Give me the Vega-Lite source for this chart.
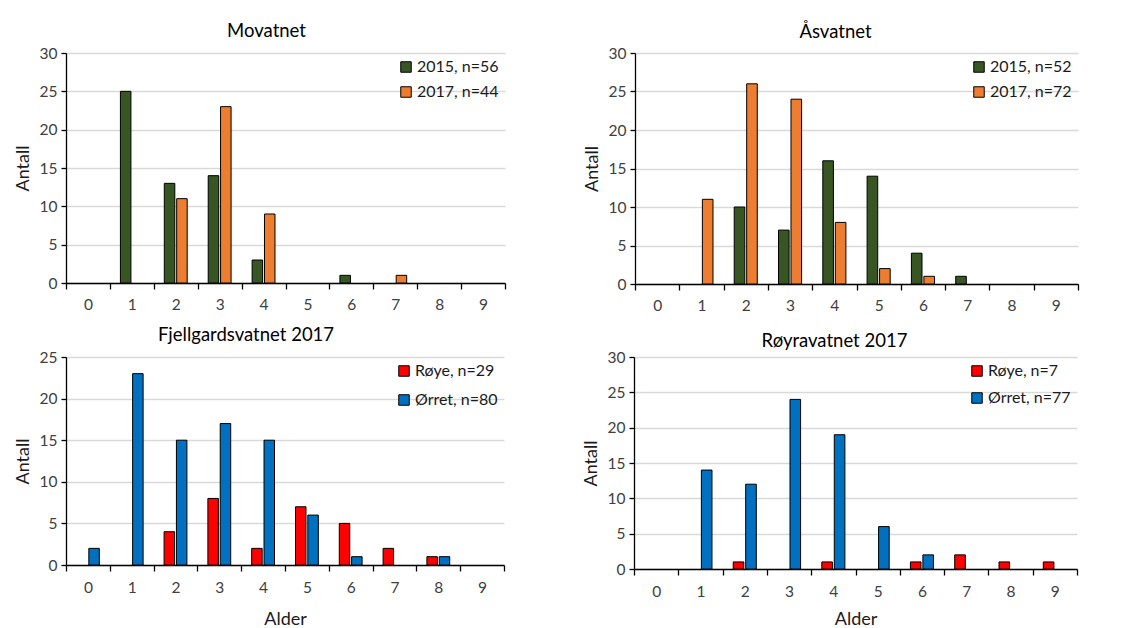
{
  "$schema": "https://vega.github.io/schema/vega-lite/v6.json",
  "background": "white",
  "padding": {"left": 14, "top": 21, "right": 10, "bottom": 0},
  "config": {
    "font": "Lato",
    "view": {"stroke": null},
    "bar": {"stroke": "black", "strokeWidth": 1},
    "title": {"fontSize": 18.5, "fontWeight": "normal", "color": "#000000", "anchor": "middle", "frame": "group"},
    "axis": {"labelFontSize": 15.5, "labelColor": "#404040", "titleFontSize": 18, "titleFontWeight": "normal", "titleColor": "#1a1a1a", "domainColor": "black", "tickColor": "black", "domainWidth": 1.3, "tickWidth": 1.3},
    "axisY": {"gridColor": "#d9d9d9", "gridWidth": 1.3, "tickSize": 5, "labelPadding": 4, "titlePadding": 7},
    "axisX": {"grid": false, "tickBand": "extent", "tickSize": 6, "labelPadding": 8, "labelAngle": 0, "titlePadding": 6},
    "legend": {"orient": "top-right", "offset": 6, "symbolType": "square", "symbolSize": 110, "symbolStrokeColor": "black", "symbolStrokeWidth": 1, "labelFontSize": 16, "labelColor": "#1a1a1a", "labelLimit": 300, "labelOffset": 3, "rowPadding": 9, "padding": 0}
  },
  "datasets": {
    "movatnet": [
      {"alder": 1, "serie": "2015, n=56", "antall": 25},
      {"alder": 2, "serie": "2015, n=56", "antall": 13},
      {"alder": 3, "serie": "2015, n=56", "antall": 14},
      {"alder": 4, "serie": "2015, n=56", "antall": 3},
      {"alder": 6, "serie": "2015, n=56", "antall": 1},
      {"alder": 2, "serie": "2017, n=44", "antall": 11},
      {"alder": 3, "serie": "2017, n=44", "antall": 23},
      {"alder": 4, "serie": "2017, n=44", "antall": 9},
      {"alder": 7, "serie": "2017, n=44", "antall": 1}
    ],
    "asvatnet": [
      {"alder": 2, "serie": "2015, n=52", "antall": 10},
      {"alder": 3, "serie": "2015, n=52", "antall": 7},
      {"alder": 4, "serie": "2015, n=52", "antall": 16},
      {"alder": 5, "serie": "2015, n=52", "antall": 14},
      {"alder": 6, "serie": "2015, n=52", "antall": 4},
      {"alder": 7, "serie": "2015, n=52", "antall": 1},
      {"alder": 1, "serie": "2017, n=72", "antall": 11},
      {"alder": 2, "serie": "2017, n=72", "antall": 26},
      {"alder": 3, "serie": "2017, n=72", "antall": 24},
      {"alder": 4, "serie": "2017, n=72", "antall": 8},
      {"alder": 5, "serie": "2017, n=72", "antall": 2},
      {"alder": 6, "serie": "2017, n=72", "antall": 1}
    ],
    "fjellgard": [
      {"alder": 2, "serie": "Røye, n=29", "antall": 4},
      {"alder": 3, "serie": "Røye, n=29", "antall": 8},
      {"alder": 4, "serie": "Røye, n=29", "antall": 2},
      {"alder": 5, "serie": "Røye, n=29", "antall": 7},
      {"alder": 6, "serie": "Røye, n=29", "antall": 5},
      {"alder": 7, "serie": "Røye, n=29", "antall": 2},
      {"alder": 8, "serie": "Røye, n=29", "antall": 1},
      {"alder": 0, "serie": "Ørret, n=80", "antall": 2},
      {"alder": 1, "serie": "Ørret, n=80", "antall": 23},
      {"alder": 2, "serie": "Ørret, n=80", "antall": 15},
      {"alder": 3, "serie": "Ørret, n=80", "antall": 17},
      {"alder": 4, "serie": "Ørret, n=80", "antall": 15},
      {"alder": 5, "serie": "Ørret, n=80", "antall": 6},
      {"alder": 6, "serie": "Ørret, n=80", "antall": 1},
      {"alder": 8, "serie": "Ørret, n=80", "antall": 1}
    ],
    "royra": [
      {"alder": 2, "serie": "Røye, n=7", "antall": 1},
      {"alder": 4, "serie": "Røye, n=7", "antall": 1},
      {"alder": 6, "serie": "Røye, n=7", "antall": 1},
      {"alder": 7, "serie": "Røye, n=7", "antall": 2},
      {"alder": 8, "serie": "Røye, n=7", "antall": 1},
      {"alder": 9, "serie": "Røye, n=7", "antall": 1},
      {"alder": 1, "serie": "Ørret, n=77", "antall": 14},
      {"alder": 2, "serie": "Ørret, n=77", "antall": 12},
      {"alder": 3, "serie": "Ørret, n=77", "antall": 24},
      {"alder": 4, "serie": "Ørret, n=77", "antall": 19},
      {"alder": 5, "serie": "Ørret, n=77", "antall": 6},
      {"alder": 6, "serie": "Ørret, n=77", "antall": 2}
    ]
  },
  "resolve": {"scale": {"x": "independent", "y": "independent", "color": "independent", "xOffset": "independent"}, "legend": {"color": "independent"}},
  "spacing": 11,
  "vconcat": [
    {
      "spacing": 77,
      "resolve": {"scale": {"x": "independent", "y": "independent", "color": "independent", "xOffset": "independent"}, "legend": {"color": "independent"}},
      "hconcat": [
        {
          "data": {"name": "movatnet"},
          "width": 439, "height": 230,
          "title": {"text": "Movatnet", "dx": -19, "offset": 6},
          "mark": "bar",
          "encoding": {
            "x": {"field": "alder", "type": "ordinal", "scale": {"domain": [0,1,2,3,4,5,6,7,8,9], "paddingInner": 0, "paddingOuter": 0}, "axis": {"title": null}},
            "xOffset": {"field": "serie", "type": "nominal", "scale": {"domain": ["2015, n=56", "2017, n=44"], "paddingInner": 0.15, "paddingOuter": 0.85}},
            "y": {"field": "antall", "type": "quantitative", "scale": {"domain": [0, 30], "nice": false}, "axis": {"title": "Antall", "values": [0,5,10,15,20,25,30]}},
            "color": {"field": "serie", "type": "nominal", "scale": {"domain": ["2015, n=56", "2017, n=44"], "range": ["#375623", "#ED7D31"]}, "legend": {"title": null, "rowPadding": 9}}
          }
        },
        {
          "data": {"name": "asvatnet"},
          "width": 443, "height": 231,
          "title": {"text": "Åsvatnet", "dx": -21, "offset": 5},
          "mark": "bar",
          "encoding": {
            "x": {"field": "alder", "type": "ordinal", "scale": {"domain": [0,1,2,3,4,5,6,7,8,9], "paddingInner": 0, "paddingOuter": 0}, "axis": {"title": null}},
            "xOffset": {"field": "serie", "type": "nominal", "scale": {"domain": ["2015, n=52", "2017, n=72"], "paddingInner": 0.15, "paddingOuter": 0.85}},
            "y": {"field": "antall", "type": "quantitative", "scale": {"domain": [0, 30], "nice": false}, "axis": {"title": "Antall", "values": [0,5,10,15,20,25,30]}},
            "color": {"field": "serie", "type": "nominal", "scale": {"domain": ["2015, n=52", "2017, n=72"], "range": ["#375623", "#ED7D31"]}, "legend": {"title": null, "rowPadding": 9}}
          }
        }
      ]
    },
    {
      "spacing": 77,
      "resolve": {"scale": {"x": "independent", "y": "independent", "color": "independent", "xOffset": "independent"}, "legend": {"color": "independent"}},
      "hconcat": [
        {
          "data": {"name": "fjellgard"},
          "width": 438, "height": 208,
          "title": {"text": "Fjellgardsvatnet 2017", "dx": -39, "offset": 6},
          "mark": "bar",
          "encoding": {
            "x": {"field": "alder", "type": "ordinal", "scale": {"domain": [0,1,2,3,4,5,6,7,8,9], "paddingInner": 0, "paddingOuter": 0}, "axis": {"title": "Alder", "labelPadding": 9, "titlePadding": 15}},
            "xOffset": {"field": "serie", "type": "nominal", "scale": {"domain": ["Røye, n=29", "Ørret, n=80"], "paddingInner": 0.15, "paddingOuter": 0.85}},
            "y": {"field": "antall", "type": "quantitative", "scale": {"domain": [0, 25], "nice": false}, "axis": {"title": "Antall", "values": [0,5,10,15,20,25]}},
            "color": {"field": "serie", "type": "nominal", "scale": {"domain": ["Røye, n=29", "Ørret, n=80"], "range": ["#FF0000", "#0070C0"]}, "legend": {"title": null, "rowPadding": 13}}
          }
        },
        {
          "data": {"name": "royra"},
          "width": 443, "height": 212,
          "title": {"text": "Røyravatnet 2017", "dx": -21, "offset": 0},
          "mark": "bar",
          "encoding": {
            "x": {"field": "alder", "type": "ordinal", "scale": {"domain": [0,1,2,3,4,5,6,7,8,9], "paddingInner": 0, "paddingOuter": 0}, "axis": {"title": "Alder", "labelPadding": 9, "titlePadding": 11}},
            "xOffset": {"field": "serie", "type": "nominal", "scale": {"domain": ["Røye, n=7", "Ørret, n=77"], "paddingInner": 0.15, "paddingOuter": 0.85}},
            "y": {"field": "antall", "type": "quantitative", "scale": {"domain": [0, 30], "nice": false}, "axis": {"title": "Antall", "values": [0,5,10,15,20,25,30]}},
            "color": {"field": "serie", "type": "nominal", "scale": {"domain": ["Røye, n=7", "Ørret, n=77"], "range": ["#FF0000", "#0070C0"]}, "legend": {"title": null, "rowPadding": 11}}
          }
        }
      ]
    }
  ]
}
